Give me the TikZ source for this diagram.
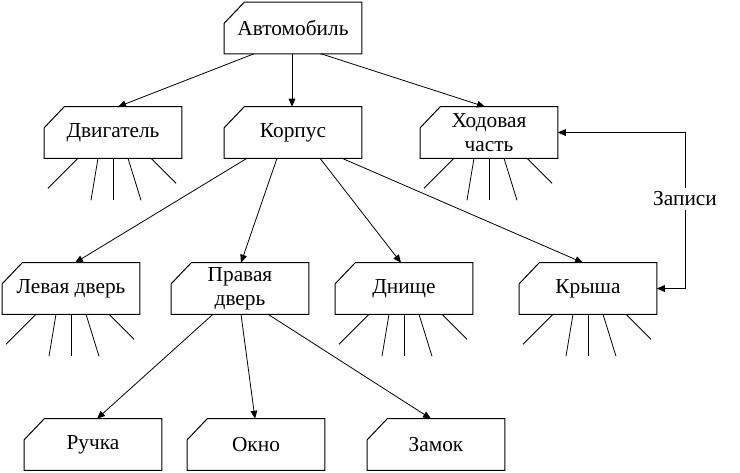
\documentclass[tikz,border=0pt]{standalone}
\usepackage{fontspec}
\setmainfont{Liberation Serif}
\usetikzlibrary{calc,arrows.meta}
\begin{document}
\begin{tikzpicture}[x=0.75pt,y=-0.75pt,
  cbox/.style={minimum width=102.75pt,minimum height=38.25pt,inner sep=0pt,align=center,
    font=\fontsize{16pt}{18pt}\selectfont},
  edge/.style={line width=0.6pt,-{Triangle[length=6pt,width=5pt]}},
  ray/.style={line width=0.6pt},
  outline/.style={line width=0.75pt}]
\useasboundingbox (0,0) rectangle (740,472);
\fill[white] (0,0) rectangle (740,472);

\node[cbox] (auto) at (293,28) {Автомобиль};
\node[cbox] (dvig) at (113,132.5) {Двигатель};
\node[cbox] (korp) at (293,132.5) {Корпус};
\node[cbox] (hod)  at (489,132.5) {Ходовая\\часть};
\node[cbox] (lev)  at (71,288.5) {Левая дверь};
\node[cbox] (prav) at (240,288.5) {Правая\\дверь};
\node[cbox] (dno)  at (404,288.5) {Днище};
\node[cbox] (kr)   at (588,288.5) {Крыша};
\node[cbox] (ruch) at (93,444.5) {Ручка};
\node[cbox] (okno) at (256,444.5) {Окно};
\node[cbox] (zam)  at (436,444.5) {Замок};

\foreach \n in {auto,dvig,korp,hod,lev,prav,dno,kr,ruch,okno,zam}
  \draw[outline] (\n.south west) -- (\n.south east) -- (\n.north east)
     -- ($(\n.north west)+(20,0)$) -- ($(\n.north west)+(0,21)$) -- cycle;

% rays
\foreach \n in {dvig,hod,lev,dno,kr}
  \foreach \a/\b/\c in {-35/-30/30,-15/-7/42,0/0/42,15/13/42,38/25/25}
    \draw[ray] ($(\n.south)+(\a,0)$) -- ++(\b,\c);

% edges
\draw[edge] ($(auto.south)+(-39,0)$) -- ($(dvig.north)+(5,0)$);
\draw[edge] ($(auto.south)+(-1,0)$) -- ($(korp.north)+(-1,0)$);
\draw[edge] ($(auto.south)+(28,0)$) -- ($(hod.north)+(-4,0)$);

\draw[edge] ($(korp.south)+(-46,0)$) -- ($(lev.north)+(4,0)$);
\draw[edge] ($(korp.south)+(-16,0)$) -- ($(prav.north)+(1,0)$);
\draw[edge] ($(korp.south)+(27,0)$) -- ($(dno.north)+(-3,0)$);
\draw[edge] ($(korp.south)+(49,0)$) -- ($(kr.north)+(-5,0)$);

\draw[edge] ($(prav.south)+(-27,0)$) -- ($(ruch.north)+(4,0)$);
\draw[edge] ($(prav.south)+(1,0)$) -- ($(okno.north)+(-1,0)$);
\draw[edge] ($(prav.south)+(28,0)$) -- ($(zam.north)+(-5,0)$);

% Записи
\node[font=\fontsize{16pt}{18pt}\selectfont,inner sep=3pt] (zap) at (685,199) {Записи};
\draw[edge] (zap.north) |- (hod.east);
\draw[edge] (zap.south) |- (kr.east);
\end{tikzpicture}
\end{document}
